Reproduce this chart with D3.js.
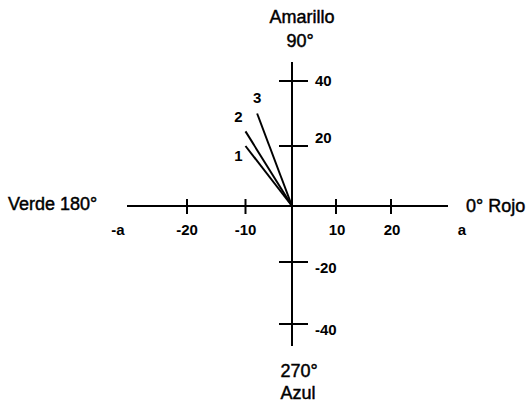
<!DOCTYPE html>
<html>
<head>
<meta charset="utf-8">
<script src="https://cdn.jsdelivr.net/npm/d3@7.9.0/dist/d3.min.js"></script>
<style>
  html, body { margin: 0; padding: 0; background: #fff; }
  svg { display: block; }
  text { font-family: "Liberation Sans", Arial, sans-serif; fill: #000; }
  .title { font-size: 18px; stroke: #000; stroke-width: 0.45px; }
  .tick-label { font-size: 15px; font-weight: bold; }
</style>
</head>
<body>
<div id="chart"></div>
<script>
// tick values on each axis
const xTicks = [-20, -10, 10, 20];
const yTicks = [-40, -20, 20, 40];
// end labels of the a axis
const xEndLabels = ["-a", "a"];
// vectors drawn from the origin (a, b)
const vectorIds = ["1", "2", "3"];
const vectorA = [-10, -10, -7.5];
const vectorB = [20, 24.5, 30];
// hue angle labels
const topLabels = ["Amarillo", "90°"];
const bottomLabels = ["270°", "Azul"];
const leftLabel = "Verde 180°";
const rightLabel = "0° Rojo";

const width = 532;
const height = 405;

const svg = d3.select('#chart')
  .append('svg')
  .attr('width', width)
  .attr('height', height);

// the printed axes are not perfectly even, so use piecewise scales
const xScale = d3.scaleLinear()
  .domain([-20, -10, 0, 10, 20])
  .range([187, 245.5, 292, 336, 391]);

const yScale = d3.scaleLinear()
  .domain([-40, -20, 0, 20, 40])
  .range([324, 262, 206, 146, 81]);

const x0 = xScale(0);
const y0 = yScale(0);

const axisLeft = 127, axisRight = 448;
const axisTop = 62, axisBottom = 346;

const ax = svg.append('g')
  .attr('stroke', '#000')
  .attr('stroke-width', 2);

// horizontal (a) axis
ax.append('line')
  .attr('x1', axisLeft).attr('x2', axisRight)
  .attr('y1', y0).attr('y2', y0);

// vertical (b) axis
ax.append('line')
  .attr('x1', x0).attr('x2', x0)
  .attr('y1', axisTop).attr('y2', axisBottom);

// x ticks
ax.selectAll('.xtick')
  .data(xTicks)
  .join('line')
  .attr('class', 'xtick')
  .attr('x1', d => xScale(d)).attr('x2', d => xScale(d))
  .attr('y1', y0 - 7).attr('y2', y0 + 8);

// y ticks
ax.selectAll('.ytick')
  .data(yTicks)
  .join('line')
  .attr('class', 'ytick')
  .attr('x1', x0 - 13).attr('x2', x0 + 16)
  .attr('y1', d => yScale(d)).attr('y2', d => yScale(d));

// x tick labels
svg.selectAll('.xlabel')
  .data(xTicks)
  .join('text')
  .attr('class', 'tick-label')
  .attr('text-anchor', 'middle')
  .attr('x', d => xScale(d) + (d > 0 ? 1 : 0))
  .attr('y', y0 + 29)
  .text(d => d);

svg.append('text')
  .attr('class', 'tick-label')
  .attr('text-anchor', 'middle')
  .attr('x', axisLeft - 9)
  .attr('y', y0 + 29)
  .text(xEndLabels[0]);

svg.append('text')
  .attr('class', 'tick-label')
  .attr('text-anchor', 'middle')
  .attr('x', axisRight + 14)
  .attr('y', y0 + 29)
  .text(xEndLabels[1]);

// y tick labels
svg.selectAll('.ylabel')
  .data(yTicks)
  .join('text')
  .attr('class', 'tick-label')
  .attr('x', x0 + 23)
  .attr('y', d => yScale(d) + (d > 0 ? (d === 20 ? -3 : 5) : 11))
  .text(d => d);

// vectors
const vectors = vectorIds.map((id, i) => ({ id, a: vectorA[i], b: vectorB[i] }));
const labelOffset = { "1": [-7, 15], "2": [-7, -9], "3": [0, -11] };

svg.append('g')
  .attr('stroke', '#000')
  .attr('stroke-width', 2)
  .selectAll('line')
  .data(vectors)
  .join('line')
  .attr('x1', x0).attr('y1', y0)
  .attr('x2', d => xScale(d.a))
  .attr('y2', d => yScale(d.b));

svg.selectAll('.vlabel')
  .data(vectors)
  .join('text')
  .attr('class', 'tick-label')
  .attr('text-anchor', 'middle')
  .attr('x', d => xScale(d.a) + labelOffset[d.id][0])
  .attr('y', d => yScale(d.b) + labelOffset[d.id][1])
  .text(d => d.id);

// hue angle titles
svg.append('text').attr('class', 'title')
  .attr('text-anchor', 'middle')
  .attr('x', 302).attr('y', 23)
  .text(topLabels[0]);
svg.append('text').attr('class', 'title')
  .attr('text-anchor', 'middle')
  .attr('x', 300).attr('y', 47)
  .text(topLabels[1]);
svg.append('text').attr('class', 'title')
  .attr('text-anchor', 'middle')
  .attr('x', 299).attr('y', 377)
  .text(bottomLabels[0]);
svg.append('text').attr('class', 'title')
  .attr('text-anchor', 'middle')
  .attr('x', 298).attr('y', 399)
  .text(bottomLabels[1]);
svg.append('text').attr('class', 'title')
  .attr('x', 8).attr('y', 210)
  .text(leftLabel);
svg.append('text').attr('class', 'title')
  .attr('x', 466).attr('y', 212)
  .text(rightLabel);
</script>
</body>
</html>
